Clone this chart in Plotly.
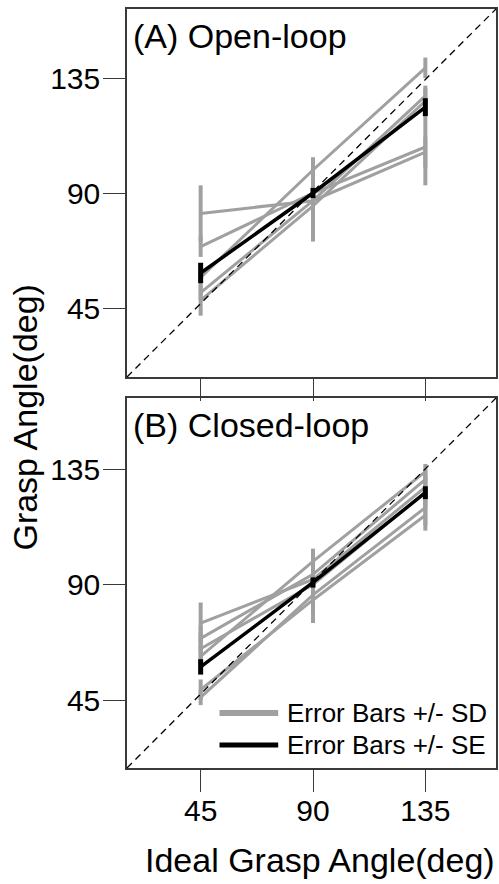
import plotly.graph_objects as go

# ---------------- data ----------------
ideal_angles = [45, 90, 135]
tick_vals = [45, 90, 135]
tick_text = ["45", "90", "135"]

# Open-loop: per-subject mean grasp angle and SD
open_subject_means = [
    [82, 87, 106],
    [69, 90, 108],
    [57, 99, 139],
    [51, 87, 128],
    [48, 85, 126],
]
open_subject_sd = [
    [11, 5, 6],
    [4, 6, 15],
    [3, 5, 4],
    [3, 5, 4],
    [6, 14, 5],
]
open_group_mean = [58.7, 90.0, 123.6]
open_group_se = [4.0, 2.0, 3.5]

# Closed-loop
closed_subject_means = [
    [75, 92, 128],
    [69, 94, 131],
    [65, 90, 126],
    [62, 99, 134],
    [49, 84, 117],
    [46, 86, 120],
]
closed_subject_sd = [
    [8, 6, 5],
    [5, 5, 4],
    [6, 8, 6],
    [4, 5, 3],
    [4, 9, 6],
    [3, 6, 7],
]
closed_group_mean = [57.9, 90.8, 125.8]
closed_group_se = [3.0, 2.0, 2.5]

panel_titles = ["(A) Open-loop", "(B) Closed-loop"]
legend_labels = ["Error Bars +/- SD", "Error Bars +/- SE"]
x_title = "Ideal Grasp Angle(deg)"
y_title = "Grasp Angle(deg)"

# ---------------- style ----------------
W, H = 499, 884
FONT = "Liberation Sans, Arial, sans-serif"
GRAY = "rgb(160,160,160)"
AXC = "#3a3a3a"

ML, MR, MT, MB = 127, 1, 9, 116
plot_w = W - ML - MR
plot_h = H - MT - MB
# pixel rows of panels
A_top, A_bot = 9, 377
B_top, B_bot = 398, 768


def frac(py):
    return (H - MB - py) / plot_h


fig = go.Figure()


def add_panel(means, sds, gmean, gse, xa, ya):
    for m, s in zip(means, sds):
        fig.add_trace(go.Scatter(
            x=ideal_angles, y=m, mode="lines",
            line=dict(color=GRAY, width=3),
            error_y=dict(type="data", array=s, visible=True, color=GRAY,
                         thickness=4, width=0),
            xaxis=xa, yaxis=ya, showlegend=False, hoverinfo="skip"))
    fig.add_trace(go.Scatter(
        x=ideal_angles, y=gmean, mode="lines",
        line=dict(color="black", width=3.5),
        error_y=dict(type="data", array=gse, visible=True, color="black",
                     thickness=5, width=0),
        xaxis=xa, yaxis=ya, showlegend=False, hoverinfo="skip"))


add_panel(open_subject_means, open_subject_sd, open_group_mean, open_group_se, "x", "y")
add_panel(closed_subject_means, closed_subject_sd, closed_group_mean, closed_group_se, "x2", "y2")

axis_common = dict(
    tickmode="array", tickvals=tick_vals, ticktext=tick_text,
    showgrid=False, zeroline=False, showline=True, mirror=True,
    linecolor=AXC, linewidth=1.5, ticks="outside", ticklen=22,
    tickwidth=1.2, tickcolor=AXC,
    tickfont=dict(family=FONT, size=30, color="black"),
)

fig.update_layout(
    width=W, height=H,
    margin=dict(l=ML, r=MR, t=MT, b=MB, pad=0),
    paper_bgcolor="white", plot_bgcolor="white",
    xaxis=dict(axis_common, domain=[0, 1], range=[15.5, 163.3],
               anchor="y", showticklabels=False),
    yaxis=dict(axis_common, domain=[frac(A_bot), frac(A_top)],
               range=[18, 162], anchor="x", ticklabelstandoff=-3),
    xaxis2=dict(axis_common, domain=[0, 1], range=[15.5, 163.3], anchor="y2",
                ticklabelstandoff=-7),
    yaxis2=dict(axis_common, domain=[frac(B_bot), frac(B_top)],
                range=[18.5, 162.7], anchor="x2", ticklabelstandoff=-3),
    showlegend=False,
)

shapes = []
annotations = []
for xa, ya, title in [("x", "y", panel_titles[0]), ("x2", "y2", panel_titles[1])]:
    # identity (ideal) reference diagonal
    shapes.append(dict(type="line", xref=f"{xa} domain", yref=f"{ya} domain",
                       x0=0, y0=0, x1=1, y1=1,
                       line=dict(color="black", width=1.3, dash="7px,5px"),
                       layer="above"))
    annotations.append(dict(text=title, xref=f"{xa} domain", yref=f"{ya} domain",
                            x=(131 - ML) / plot_w, y=0.927,
                            xanchor="left", yanchor="middle",
                            showarrow=False,
                            font=dict(family=FONT, size=34, color="black")))

# manual legend in panel B
leg_x0 = (220 - ML) / plot_w
leg_x1 = (279 - ML) / plot_w
leg_tx = (286 - ML) / plot_w
leg_rows = [(713, GRAY, 6), (745, "black", 5)]
for (py, col, lw), lab in zip(leg_rows, legend_labels):
    yy = (B_bot - py) / (B_bot - B_top)
    shapes.append(dict(type="line", xref="x2 domain", yref="y2 domain",
                       x0=leg_x0, x1=leg_x1, y0=yy, y1=yy,
                       line=dict(color=col, width=lw)))
    annotations.append(dict(text=lab, xref="x2 domain", yref="y2 domain",
                            x=leg_tx, y=yy, xanchor="left", yanchor="middle",
                            showarrow=False,
                            font=dict(family=FONT, size=26, color="black")))

# axis titles
annotations.append(dict(text=x_title, xref="paper", yref="paper",
                        x=(321 - ML) / plot_w, y=frac(860),
                        xanchor="center", yanchor="middle", showarrow=False,
                        font=dict(family=FONT, size=34, color="black")))
annotations.append(dict(text=y_title, xref="paper", yref="paper",
                        x=(24 - ML) / plot_w, y=frac(417),
                        xanchor="center", yanchor="middle", showarrow=False,
                        textangle=-90,
                        font=dict(family=FONT, size=34, color="black")))

fig.update_layout(shapes=shapes, annotations=annotations)
fig.write_html(
    "out.html",
    config={"displayModeBar": False},
    post_script="document.body.style.margin='0';document.body.style.overflow='hidden';",
)
